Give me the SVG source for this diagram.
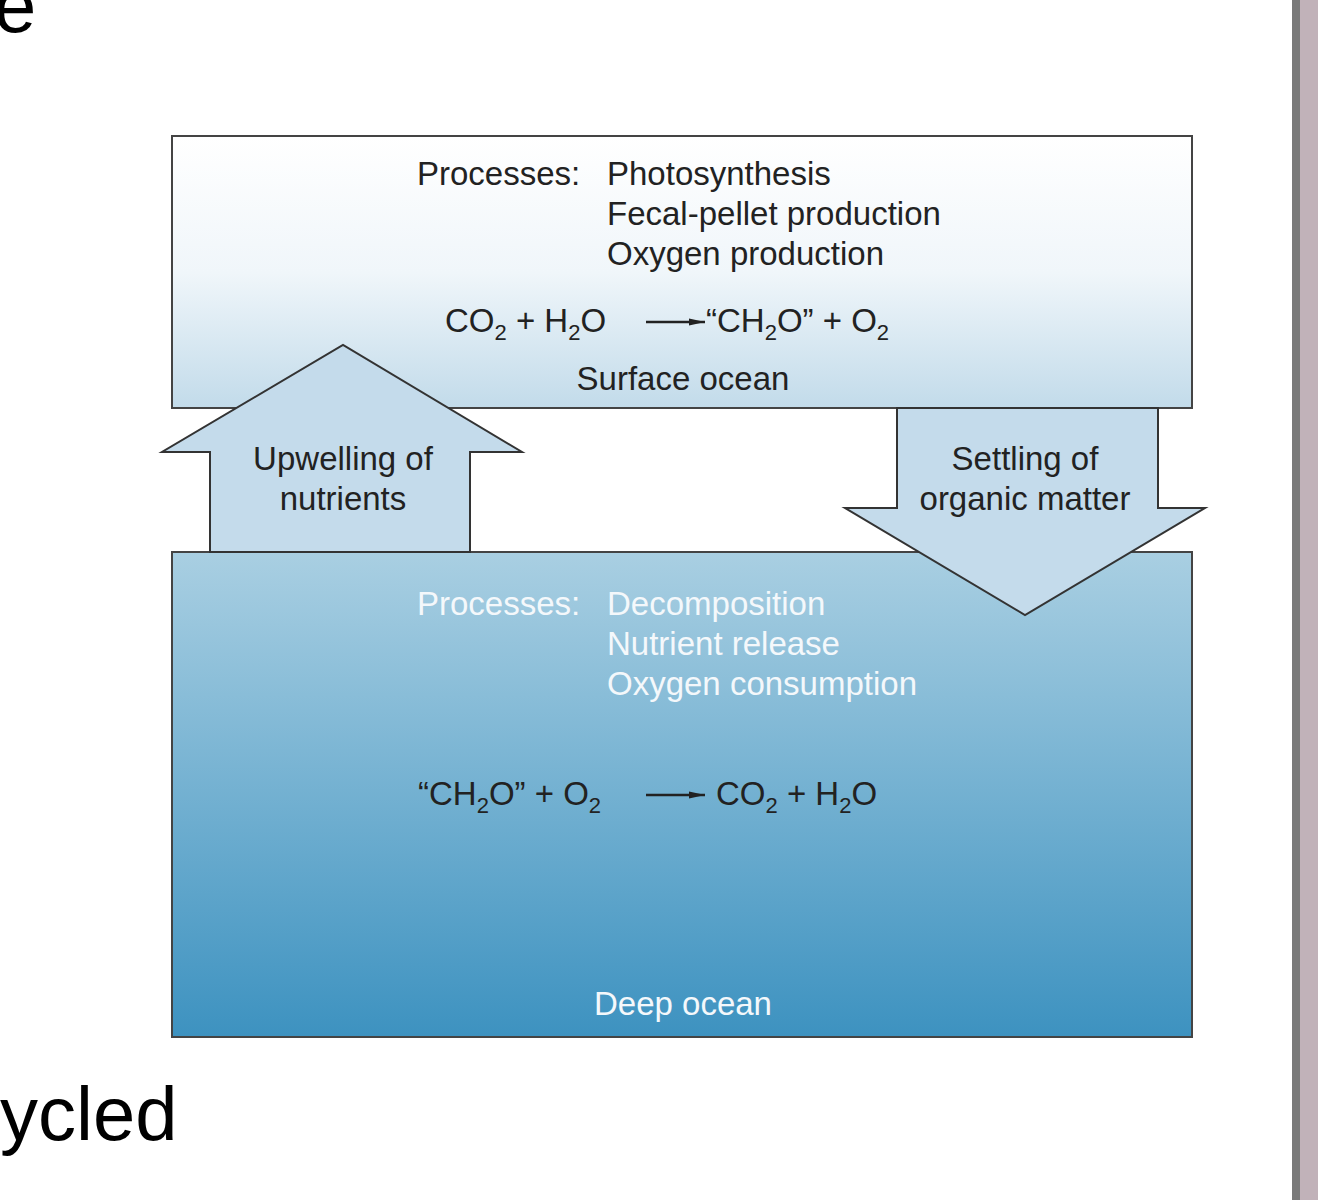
<svg xmlns="http://www.w3.org/2000/svg" width="1318" height="1200" viewBox="0 0 1318 1200">
<defs>
<linearGradient id="gs" x1="0" y1="0" x2="0" y2="1"><stop offset="0" stop-color="#ffffff"/><stop offset="0.5" stop-color="#f0f6fa"/><stop offset="1" stop-color="#c2dbea"/></linearGradient>
<linearGradient id="gd" x1="0" y1="0" x2="0" y2="1"><stop offset="0" stop-color="#a9cfe2"/><stop offset="1" stop-color="#3d92c0"/></linearGradient>
<marker id="ah" viewBox="0 0 10 10" refX="10" refY="5" markerWidth="16" markerHeight="12" markerUnits="userSpaceOnUse" orient="auto" preserveAspectRatio="none"><path d="M0,2 L10,5 L0,8 Z" fill="#222"/></marker>
<style>
text{font-family:"Liberation Sans",Arial,sans-serif;font-size:33px;fill:#222}
.w{fill:#f4f8fb}
.big{font-size:76px;fill:#000}
.box{stroke:#444;stroke-width:2}
.arr{fill:#c4dbeb;stroke:#333;stroke-width:2}
.sub{font-size:22px}
</style>
</defs>
<rect x="1292" y="0" width="8" height="1200" fill="#7a7a7a"/>
<rect x="1300" y="0" width="18" height="1200" fill="#c1b2b9"/>
<text class="big" x="-6" y="32">e</text>
<text class="big" x="0" y="1140">ycled</text>
<g id="surface">
<rect class="box" x="172" y="136" width="1020" height="272" fill="url(#gs)"/>
<text x="417" y="185">Processes:</text>
<text x="607" y="185">Photosynthesis</text>
<text x="607" y="225">Fecal-pellet production</text>
<text x="607" y="265">Oxygen production</text>
<text x="445" y="332">CO<tspan class="sub" dy="8">2</tspan><tspan dy="-8"> + H</tspan><tspan class="sub" dy="8">2</tspan><tspan dy="-8">O</tspan></text>
<line x1="646" y1="322" x2="705" y2="322" stroke="#222" stroke-width="2.5" marker-end="url(#ah)"/>
<text x="706" y="332">“CH<tspan class="sub" dy="8">2</tspan><tspan dy="-8">O” + O</tspan><tspan class="sub" dy="8">2</tspan></text>
<text x="683" y="390" text-anchor="middle">Surface ocean</text>
</g>
<g id="deep">
<rect class="box" x="172" y="552" width="1020" height="485" fill="url(#gd)"/>
<text class="w" x="417" y="615">Processes:</text>
<text class="w" x="607" y="615">Decomposition</text>
<text class="w" x="607" y="655">Nutrient release</text>
<text class="w" x="607" y="695">Oxygen consumption</text>
<text x="418" y="805">“CH<tspan class="sub" dy="8">2</tspan><tspan dy="-8">O” + O</tspan><tspan class="sub" dy="8">2</tspan></text>
<line x1="646" y1="795" x2="705" y2="795" stroke="#222" stroke-width="2.5" marker-end="url(#ah)"/>
<text x="716" y="805">CO<tspan class="sub" dy="8">2</tspan><tspan dy="-8"> + H</tspan><tspan class="sub" dy="8">2</tspan><tspan dy="-8">O</tspan></text>
<text class="w" x="683" y="1015" text-anchor="middle">Deep ocean</text>
</g>
<g id="connectors">
<g id="upwelling">
<polygon class="arr" points="210,552 210,452 162,452 343,345 522,452 470,452 470,552"/>
<text x="343" y="470" text-anchor="middle">Upwelling of</text>
<text x="343" y="510" text-anchor="middle">nutrients</text>
</g>
<g id="settling">
<polygon class="arr" points="897,408 1158,408 1158,508 1205,508 1025,615 845,508 897,508"/>
<text x="1025" y="470" text-anchor="middle">Settling of</text>
<text x="1025" y="510" text-anchor="middle">organic matter</text>
</g>
</g>
</svg>
